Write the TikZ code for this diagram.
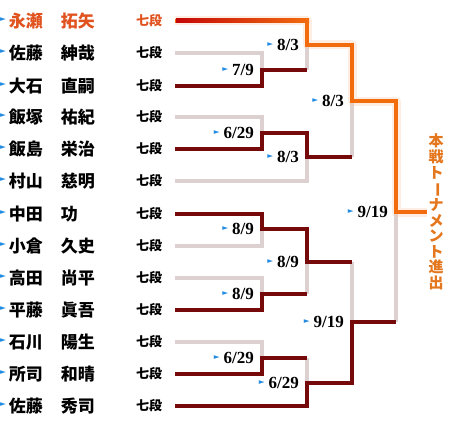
\documentclass[tikz,border=0pt]{standalone}
\usepackage{fontspec}
\setmainfont{Liberation Serif}
\newfontfamily\jpfont{Noto Sans CJK JP}
\newfontfamily\symfont{DejaVu Sans}

\definecolor{windark}{RGB}{118,10,10}
\definecolor{lossgray}{RGB}{221,208,208}
\definecolor{leadorange}{RGB}{242,108,14}
\definecolor{leadred}{RGB}{196,8,8}
\definecolor{namered}{RGB}{224,82,30}
\definecolor{goalorange}{RGB}{228,118,30}
\definecolor{markblue}{RGB}{35,140,225}

\newcommand{\trimark}[1][4.5pt]{\raisebox{#1}{\symfont\fontsize{7.5}{7.5}\selectfont\textcolor{markblue}{►}}}

\begin{document}
\begin{tikzpicture}[
    x=1pt, y=-1pt,
    every node/.style={inner sep=0pt},
    player/.style={
        anchor=west,
        font=\jpfont\bfseries\fontsize{17}{17}\selectfont
    },
    rank/.style={
        anchor=west,
        font=\jpfont\bfseries\fontsize{13}{13}\selectfont
    },
    date/.style={
        anchor=east,
        font=\bfseries\fontsize{17}{17}\selectfont
    },
    goaltext/.style={
        align=center,
        text=goalorange,
        font=\jpfont\bfseries\fontsize{15}{15.6}\selectfont
    },
    lose/.style={draw=lossgray, line width=4pt},
    win/.style={draw=windark, line width=4pt},
    lead/.style={draw=leadorange, line width=4pt},
    glow/.style={draw=leadorange!35, line width=9pt, line join=round, opacity=0.35}
]
\useasboundingbox (0,0) rectangle (460,428);

% Players
\node[player, text=namered] (p1) at (0,21) {\trimark[6pt]\hspace{3pt}永瀬\hspace{18pt}拓矢};
\node[player] (p2) at (0,53) {\trimark[6pt]\hspace{3pt}佐藤\hspace{18pt}紳哉};
\node[player] (p3) at (0,86) {\trimark[6pt]\hspace{3pt}大石\hspace{18pt}直嗣};
\node[player] (p4) at (0,117) {\trimark[6pt]\hspace{3pt}飯塚\hspace{18pt}祐紀};
\node[player] (p5) at (0,149) {\trimark[6pt]\hspace{3pt}飯島\hspace{18pt}栄治};
\node[player] (p6) at (0,181) {\trimark[6pt]\hspace{3pt}村山\hspace{18pt}慈明};
\node[player] (p7) at (0,214) {\trimark[6pt]\hspace{3pt}中田\hspace{18pt}功};
\node[player] (p8) at (0,246) {\trimark[6pt]\hspace{3pt}小倉\hspace{18pt}久史};
\node[player] (p9) at (0,278) {\trimark[6pt]\hspace{3pt}高田\hspace{18pt}尚平};
\node[player] (p10) at (0,310) {\trimark[6pt]\hspace{3pt}平藤\hspace{18pt}眞吾};
\node[player] (p11) at (0,342) {\trimark[6pt]\hspace{3pt}石川\hspace{18pt}陽生};
\node[player] (p12) at (0,374) {\trimark[6pt]\hspace{3pt}所司\hspace{18pt}和晴};
\node[player] (p13) at (0,406) {\trimark[6pt]\hspace{3pt}佐藤\hspace{18pt}秀司};

% Ranks
\node[rank, text=namered] (r1) at (136,21) {七段};
\node[rank] (r2) at (136,53) {七段};
\node[rank] (r3) at (136,86) {七段};
\node[rank] (r4) at (136,117) {七段};
\node[rank] (r5) at (136,149) {七段};
\node[rank] (r6) at (136,181) {七段};
\node[rank] (r7) at (136,214) {七段};
\node[rank] (r8) at (136,246) {七段};
\node[rank] (r9) at (136,278) {七段};
\node[rank] (r10) at (136,310) {七段};
\node[rank] (r11) at (136,342) {七段};
\node[rank] (r12) at (136,374) {七段};
\node[rank] (r13) at (136,406) {七段};

% Match points
\coordinate (jA) at (262,70);
\coordinate (jB) at (262,133);
\coordinate (jC) at (262,229);
\coordinate (jD) at (262,294);
\coordinate (jE) at (262,358);
\coordinate (jF) at (307,45);
\coordinate (jG) at (307,157);
\coordinate (jH) at (307,262);
\coordinate (jI) at (307,383);
\coordinate (jJ) at (352,101);
\coordinate (jK) at (352,322);
\coordinate (jL) at (396,212);
\coordinate (goal) at (427,212);

% Dates
\node[date] (dA) at (254,70) {\trimark\hspace{4pt}7/9};
\node[date] (dB) at (254,133) {\trimark\hspace{4pt}6/29};
\node[date] (dC) at (254,229) {\trimark\hspace{4pt}8/9};
\node[date] (dD) at (254,294) {\trimark\hspace{4pt}8/9};
\node[date] (dE) at (254,358) {\trimark\hspace{4pt}6/29};
\node[date] (dF) at (299,45) {\trimark\hspace{4pt}8/3};
\node[date] (dG) at (299,157) {\trimark\hspace{4pt}8/3};
\node[date] (dH) at (299,262) {\trimark\hspace{4pt}8/9};
\node[date] (dI) at (299,383) {\trimark\hspace{4pt}6/29};
\node[date] (dJ) at (344,101) {\trimark\hspace{4pt}8/3};
\node[date] (dK) at (344,322) {\trimark\hspace{4pt}9/19};
\node[date] (dL) at (388,212) {\trimark\hspace{4pt}9/19};

\node[goaltext] (final) at (436,212) {本\\戦\\ト\\\rotatebox[origin=c]{-90}{ー}\\ナ\\メ\\ン\\ト\\進\\出};

% Lost lines
\draw[lose, shorten <=13pt] (r2.east) -| (jA);
\draw[lose, shorten <=13pt] (r4.east) -| (jB);
\draw[lose, shorten <=13pt] (r6.east) -| (jG);
\draw[lose, shorten <=13pt] (r8.east) -| (jC);
\draw[lose, shorten <=13pt] (r9.east) -| (jD);
\draw[lose, shorten <=13pt] (r11.east) -| (jE);
\draw[lose] (jA -| jF) -- (jF);
\draw[lose] (jD -| jH) -- (jH);
\draw[lose] (jE -| jI) -- (jI);
\draw[lose] (jG -| jJ) -- (jJ);
\draw[lose] (jH -| jK) -- (jK);
\draw[lose] (jK -| jL) -- (jL);

% Won lines
\draw[win, shorten <=13pt] (r3.east) -| (jA) -- (jA -| jF);
\draw[win, shorten <=13pt] (r5.east) -| (jB) -- (jB -| jG) -- (jG) -- (jG -| jJ);
\draw[win, shorten <=13pt] (r7.east) -| (jC) -- (jC -| jH) -- (jH) -- (jH -| jK);
\draw[win, shorten <=13pt] (r10.east) -| (jD) -- (jD -| jH);
\draw[win, shorten <=13pt] (r12.east) -| (jE) -- (jE -| jI);
\draw[win, shorten <=13pt] (r13.east) -| (jI) -- (jI -| jK) -- (jK) -- (jK -| jL);

% Path to the main tournament
\draw[glow, shorten <=13pt] (r1.east) -| (jF) -| (jJ) -| (jL) -- (goal);
\draw[lead, shorten <=13pt] (r1.east) -| (jF) -| (jJ) -| (jL) -- (goal);
\shade[left color=leadred, right color=leadorange] (176,19) rectangle (309,23);

\end{tikzpicture}
\end{document}
